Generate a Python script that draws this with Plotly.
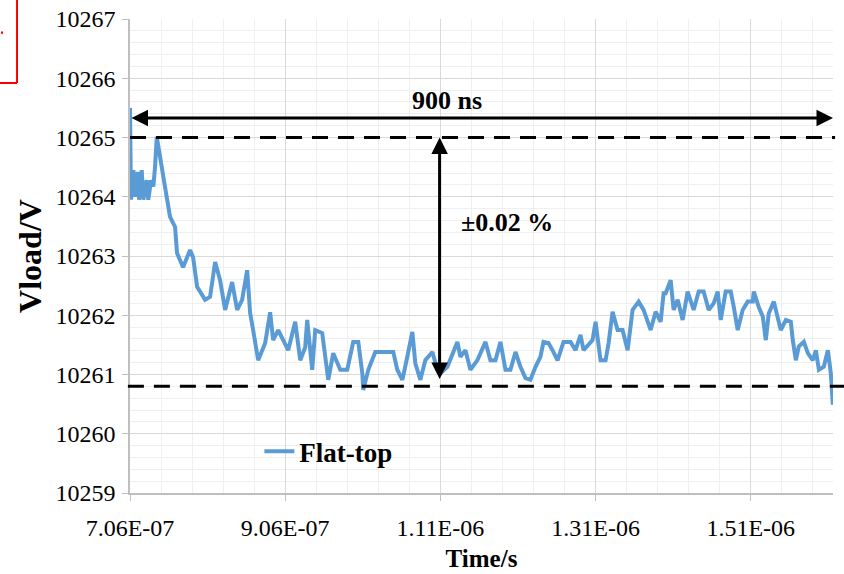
import plotly.graph_objects as go

# ---- data (time in ns, voltage in V) ----
time_ns = [706, 707.3, 710.3, 712.5, 715.9, 717.6, 721.1, 723.2, 727.5, 729.6, 733.1, 736.1, 738.3, 740.5,
           751.2, 757.6, 764.1, 766.6, 774.4, 783.4, 787.3, 792.5, 802.8, 809.2, 815.7, 822.1, 828.6, 837.6,
           844.1, 850.5, 857.0, 860.8, 864.7, 871.2, 880.2, 886.6, 890.5, 897.0, 903.4, 909.9, 918.9, 925.4,
           931.8, 934.4, 940.8, 944.7, 953.7, 961.5, 967.9, 977.0, 986.0, 993.7, 1000.2, 1005.4, 1006.6,
           1013.1, 1022.1, 1037.6, 1045.3, 1050.5, 1057.0, 1063.4, 1069.9, 1073.7, 1080.2, 1086.6, 1095.7,
           1102.1, 1106.0, 1115.0, 1121.5, 1127.9, 1131.8, 1138.3, 1144.7, 1153.7, 1164.1, 1170.5, 1177.0,
           1183.4, 1189.9, 1196.3, 1202.8, 1209.2, 1215.7, 1222.1, 1228.6, 1235.0, 1238.9, 1245.3, 1250.5,
           1257.0, 1264.7, 1273.7, 1280.2, 1286.6, 1290.5, 1302.1, 1306.0, 1312.4, 1318.9, 1322.8, 1327.9,
           1334.4, 1340.8, 1347.3, 1353.7, 1361.5, 1367.9, 1377.0, 1383.4, 1389.9, 1393.7, 1396.3, 1402.8,
           1406.6, 1411.8, 1418.2, 1424.7, 1432.4, 1438.9, 1445.3, 1451.8, 1458.2, 1463.4, 1467.3, 1473.7,
           1480.2, 1484.1, 1489.2, 1495.6, 1502.1, 1508.6, 1509.9, 1516.3, 1521.5, 1525.4, 1529.2, 1535.7,
           1540.8, 1544.7, 1551.2, 1557.6, 1560.2, 1564.1, 1567.9, 1574.4, 1579.6, 1586.0, 1589.9, 1593.8,
           1600.2, 1605.4, 1609.2, 1611.8]
vload = [10265.50, 10263.95, 10264.45, 10264.00, 10264.42, 10263.95, 10264.45, 10263.95, 10264.28, 10263.95,
         10264.28, 10264.17, 10264.51, 10265.01,
         10264.16, 10263.66, 10263.49, 10263.05, 10262.81, 10263.10, 10262.98, 10262.48, 10262.26, 10262.31,
         10262.90, 10262.59, 10262.09, 10262.56, 10262.09, 10262.26, 10262.76, 10262.04, 10261.75, 10261.24,
         10261.53, 10262.05, 10261.58, 10261.75, 10261.58, 10261.41, 10261.89, 10261.24, 10261.46, 10261.92,
         10261.08, 10261.75, 10261.70, 10260.91, 10261.36, 10261.08, 10261.08, 10261.55, 10261.55, 10261.02,
         10260.74, 10261.08, 10261.38, 10261.38, 10261.38, 10261.08, 10260.91, 10261.30, 10261.72, 10261.19,
         10260.91, 10261.24, 10261.38, 10261.08, 10261.02, 10261.13, 10261.36, 10261.55, 10261.30, 10261.41,
         10261.08, 10261.24, 10261.55, 10261.24, 10261.24, 10261.55, 10261.08, 10261.08, 10261.38, 10261.13,
         10260.94, 10260.91, 10261.13, 10261.30, 10261.55, 10261.53, 10261.41, 10261.24, 10261.55, 10261.55,
         10261.41, 10261.67, 10261.41, 10261.58, 10261.89, 10261.24, 10261.24, 10261.53, 10262.06, 10261.75,
         10261.75, 10261.41, 10262.09, 10262.23, 10262.09, 10261.75, 10262.06, 10261.89, 10262.37, 10262.37,
         10262.59, 10262.09, 10262.26, 10261.92, 10262.40, 10262.09, 10262.40, 10262.40, 10262.09, 10262.20,
         10262.40, 10261.92, 10262.40, 10262.40, 10262.14, 10261.75, 10262.09, 10262.23, 10262.23, 10262.40,
         10262.14, 10261.98, 10261.58, 10262.03, 10262.23, 10261.92, 10261.75, 10261.92, 10261.89, 10261.58,
         10261.24, 10261.47, 10261.55, 10261.36, 10261.24, 10261.41, 10261.08, 10261.13, 10261.41, 10261.02,
         10260.49]
time_s = [t * 1e-9 for t in time_ns]

x_tick_vals = [706e-9, 906e-9, 1106e-9, 1306e-9, 1506e-9]
x_tick_text = ["7.06E-07", "9.06E-07", "1.11E-06", "1.31E-06", "1.51E-06"]
y_tick_vals = [10259, 10260, 10261, 10262, 10263, 10264, 10265, 10266, 10267]

upper_limit = 10265.0
lower_limit = 10260.8
span_arrow_y = 10265.33
span_start, span_end = 706e-9, 1612e-9
dev_arrow_x = 1.105e-6
dev_top, dev_bottom = 10265.0, 10260.9

FONT = "Liberation Serif, Times New Roman, serif"
BLUE = "#5B9BD5"

fig = go.Figure()
fig.add_trace(go.Scatter(x=time_s, y=vload, mode="lines", name="<b>Flat-top</b>",
                         line=dict(color=BLUE, width=4), cliponaxis=False))

fig.update_layout(
    width=844, height=574,
    margin=dict(l=130, r=11, t=19, b=81, autoexpand=False),
    paper_bgcolor="white", plot_bgcolor="white",
    font=dict(family=FONT, color="black", size=24),
    showlegend=True,
    legend=dict(x=0.184, y=0.087, xanchor="left", yanchor="middle",
                bgcolor="rgba(0,0,0,0)", font=dict(size=27, family=FONT)),
)

fig.update_xaxes(
    range=[706e-9, 1612e-9], tickmode="array", tickvals=x_tick_vals, ticktext=x_tick_text,
    automargin=False,
    showgrid=True, gridcolor="#D9D9D9", gridwidth=1,
    minor=dict(tick0=706e-9, dtick=40e-9, showgrid=True, gridcolor="#EFEFEF", gridwidth=1),
    showline=True, linecolor="#BFBFBF", linewidth=1.5,
    ticks="outside", ticklen=6, tickcolor="#BFBFBF", ticklabelstandoff=6,
    tickfont=dict(size=24, family=FONT, color="black"),
    title=dict(text="<b>Time/s</b>", font=dict(size=25, family=FONT), standoff=10),
    zeroline=False,
)
fig.update_yaxes(
    range=[10259, 10267], tickmode="array", tickvals=y_tick_vals,
    ticktext=[str(v) for v in y_tick_vals],
    automargin=False,
    showgrid=True, gridcolor="#D9D9D9", gridwidth=1,
    minor=dict(tick0=10259, dtick=0.2, showgrid=True, gridcolor="#EFEFEF", gridwidth=1),
    showline=True, linecolor="#BFBFBF", linewidth=1.5,
    ticks="outside", ticklen=6, tickcolor="#BFBFBF", ticklabelstandoff=2,
    tickfont=dict(size=24, family=FONT, color="black"),
    title=dict(text="<b>Vload/V</b>", font=dict(size=32, family=FONT), standoff=4),
    zeroline=False,
)

# dashed limit lines
fig.add_shape(type="line", xref="paper", yref="y", x0=0, x1=1.003, y0=upper_limit, y1=upper_limit,
              line=dict(color="black", width=3, dash="16px,10px"))
fig.add_shape(type="line", xref="paper", yref="y", x0=-0.003, x1=1.02, y0=lower_limit, y1=lower_limit,
              line=dict(color="black", width=3, dash="16px,10px"))

# double-headed arrows
fig.add_annotation(x=span_end, y=span_arrow_y, ax=span_start, ay=span_arrow_y,
                   xref="x", yref="y", axref="x", ayref="y", text="", showarrow=True,
                   arrowhead=2, startarrowhead=2, arrowside="end+start", arrowwidth=3,
                   arrowsize=1.1, startarrowsize=1.1, arrowcolor="black", standoff=0, startstandoff=0)
fig.add_annotation(x=dev_arrow_x, y=dev_top, ax=dev_arrow_x, ay=dev_bottom,
                   xref="x", yref="y", axref="x", ayref="y", text="", showarrow=True,
                   arrowhead=2, startarrowhead=2, arrowside="end+start", arrowwidth=3,
                   arrowsize=1.1, startarrowsize=1.1, arrowcolor="black", standoff=0, startstandoff=0)

fig.add_annotation(x=1115e-9, y=10265.63, text="<b>900 ns</b>", showarrow=False,
                   font=dict(size=26, family=FONT, color="black"))
fig.add_annotation(x=1192e-9, y=10263.57, text="<b>±0.02 %</b>", showarrow=False,
                   font=dict(size=26, family=FONT, color="black"))

# red frame fragment at top-left corner
fig.add_shape(type="line", xref="paper", yref="paper", x0=-0.1607, x1=-0.1607, y0=1.05, y1=0.865,
              line=dict(color="red", width=2))
fig.add_shape(type="line", xref="paper", yref="paper", x0=-0.19, x1=-0.1607, y0=0.865, y1=0.865,
              line=dict(color="red", width=2))
fig.add_shape(type="circle", xref="paper", yref="paper", x0=-0.1835, x1=-0.1805, y0=0.968, y1=0.974,
              fillcolor="red", line=dict(color="red", width=0))

fig.write_html("out.html", config={"displayModeBar": False},
               post_script="document.body.style.margin='0px';document.body.style.overflow='hidden';")
